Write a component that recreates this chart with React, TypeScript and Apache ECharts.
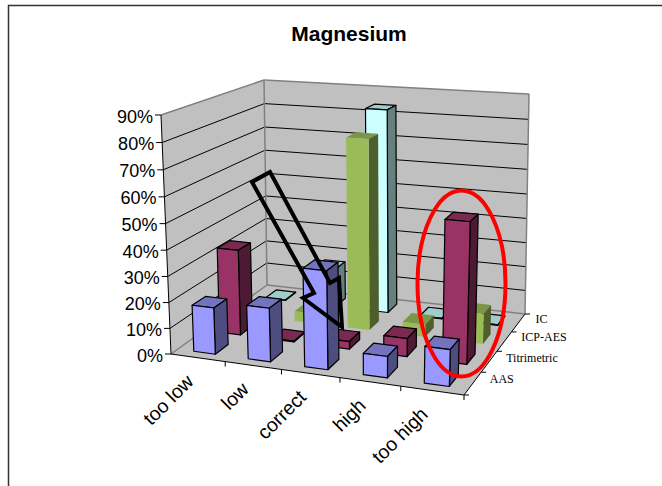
import React, { useEffect, useRef } from "react";
import * as echarts from "echarts";

const categories = ["too low", "low", "correct", "high", "too high"];
const rowNames = ["AAS", "Titrimetric", "ICP-AES", "IC"];
const valueTicks = [0, 10, 20, 30, 40, 50, 60, 70, 80, 90];
const aas = [18, 20.5, 37, 8, 13.5];
const titrimetric = [34, 0.3, 3, 7, 53.5];
const icpAes = [2, 4, 76, 5, 12];
const ic = [0.2, 16, 83.5, 0.2, 0.2];

type Pt = [number, number];
const FLOOR: Pt[] = [[171, 354], [464, 395], [525, 314], [267, 285]];
const TOP: Pt[] = [[161, 115], [472, 137], [529, 94], [264, 80]];
const GRID = { left: 100, top: 100, width: 300, height: 200 };
const PERSPECTIVE = -0.04;

function homography(q: Pt[]) {
  const [[x0, y0], [x1, y1], [x2, y2], [x3, y3]] = q;
  const dx1 = x1 - x2, dx2 = x3 - x2, sx = x0 - x1 + x2 - x3;
  const dy1 = y1 - y2, dy2 = y3 - y2, sy = y0 - y1 + y2 - y3;
  const den = dx1 * dy2 - dx2 * dy1;
  const g = (sx * dy2 - dx2 * sy) / den;
  const h = (dx1 * sy - sx * dy1) / den;
  const a = x1 - x0 + g * x1, b = x3 - x0 + h * x3;
  const d = y1 - y0 + g * y1, e = y3 - y0 + h * y3;
  return (u: number, v: number): Pt => {
    const w = g * u + h * v + 1;
    return [(a * u + b * v + x0) / w, (d * u + e * v + y0) / w];
  };
}
const floorH = homography(FLOOR);
const topH = homography(TOP);

function project(u: number, v: number, w: number): Pt {
  const f = floorH(u, v);
  const t = topH(u, v);
  const k = (w * (1 + PERSPECTIVE)) / (1 + PERSPECTIVE * w);
  return [f[0] + (t[0] - f[0]) * k, f[1] + (t[1] - f[1]) * k];
}

// library scales -> unit cube
const uOf = (api: any, cat: number) => (api.coord([cat, 0])[0] - GRID.left) / GRID.width;
const bandOf = (api: any) => api.size([1, 0])[0] / GRID.width;
const wOf = (api: any, val: number) => (GRID.top + GRID.height - api.coord([0, val])[1]) / GRID.height;

const poly = (points: Pt[], fill: string, stroke?: string, lineWidth = 1) => ({
  type: "polygon",
  shape: { points },
  style: { fill, stroke: stroke ?? "none", lineWidth, lineJoin: "round" },
});
const seg = (p: Pt, q: Pt, stroke: string, lineWidth = 1) => ({
  type: "line",
  shape: { x1: p[0], y1: p[1], x2: q[0], y2: q[1] },
  style: { stroke, lineWidth },
});
const label = (x: number, y: number, text: string, font: string, align: string, rotation = 0) => ({
  type: "text",
  x,
  y,
  rotation,
  style: { text, x: 0, y: 0, font, fill: "#000", align, verticalAlign: "middle" },
});

const SANS = '18px "Liberation Sans", Arial, sans-serif';
const SANS_CAT = '19.5px "Liberation Sans", Arial, sans-serif';
const SERIF = '12px "Liberation Serif", "Times New Roman", serif';

function renderFrame(_: any, api: any) {
  const wall = "#C0C0C0";
  const edge = "#808080";
  const children: any[] = [
    poly([project(0, 0, 0), project(1, 0, 0), project(1, 1, 0), project(0, 1, 0)], wall),
    poly([project(0, 0, 0), project(0, 1, 0), project(0, 1, 1), project(0, 0, 1)], wall),
    poly([project(0, 1, 0), project(1, 1, 0), project(1, 1, 1), project(0, 1, 1)], wall),
  ];
  valueTicks.forEach((t, i) => {
    const w = wOf(api, t);
    const a = project(0, 0, w), b = project(0, 1, w), c = project(1, 1, w);
    if (i > 0 && i < valueTicks.length - 1) {
      children.push(seg(a, b, "#000"), seg(b, c, "#000"));
    }
    children.push(seg(a, [a[0] - 6, a[1]], "#000"));
    children.push(label(a[0] - 8, a[1] + 1.5, `${t}%`, SANS, "right"));
  });
  const top = 1;
  children.push(
    seg(project(0, 0, 0), project(0, 1, 0), edge, 1.5),
    seg(project(0, 1, 0), project(1, 1, 0), edge, 1.5),
    seg(project(0, 1, 0), project(0, 1, top), edge, 1.5),
    seg(project(1, 1, 0), project(1, 1, top), edge, 1.5),
    seg(project(0, 0, top), project(0, 1, top), edge, 1.5),
    seg(project(0, 1, top), project(1, 1, top), edge, 1.5),
    seg(project(0, 0, 0), project(0, 0, top), "#000", 1),
    seg(project(0, 0, 0), project(1, 0, 0), "#000", 1),
    seg(project(1, 0, 0), project(1, 1, 0), "#000", 1),
  );
  const band = bandOf(api);
  categories.forEach((name, i) => {
    const u = uOf(api, i);
    const m = project(u, 0, 0);
    children.push(label(m[0] - 8, m[1] + 20, name, SANS_CAT, "right", Math.PI / 4));
    const t = project(u + band / 2, 0, 0);
    children.push(seg(t, [t[0], t[1] + 5], "#000"));
  });
  rowNames.forEach((name, i) => {
    const t = project(1, (i + 1) / rowNames.length, 0);
    const base = project(1, i / rowNames.length, 0);
    children.push(seg(base, [base[0] + 5, base[1]], "#000"));
    if (i === rowNames.length - 1) children.push(seg(t, [t[0] + 5, t[1]], "#000"));
    const m = project(1, (i + 0.5) / rowNames.length, 0);
    children.push(label(m[0] + 17, m[1] - 4, name, SERIF, "left"));
  });
  return { type: "group", children };
}

type Shades = { front: string; top: string; side: string; stroke?: string };

function barSeries(name: string, values: number[], row: number, c: Shades, z: number) {
  return {
    type: "custom",
    name,
    coordinateSystem: "cartesian2d",
    clip: false,
    z,
    encode: { x: 0, y: 1 },
    data: values.map((v, i) => [i, v]),
    renderItem: (_: any, api: any) => {
      const u = uOf(api, api.value(0));
      const half = bandOf(api) * 0.2;
      const w = wOf(api, api.value(1));
      const v0 = (row + 0.25) / rowNames.length;
      const v1 = (row + 0.75) / rowNames.length;
      const u0 = u - half, u1 = u + half;
      const lw = 1.2;
      return {
        type: "group",
        children: [
          poly([project(u0, v0, w), project(u1, v0, w), project(u1, v1, w), project(u0, v1, w)], c.top, c.stroke, lw),
          poly([project(u1, v0, 0), project(u1, v1, 0), project(u1, v1, w), project(u1, v0, w)], c.side, c.stroke, lw),
          poly([project(u0, v0, 0), project(u1, v0, 0), project(u1, v0, w), project(u0, v0, w)], c.front, c.stroke, lw),
        ],
      };
    },
  };
}

export default function App() {
  const ref = useRef<HTMLDivElement>(null);
  useEffect(() => {
    document.body.style.margin = "0";
    const chart = echarts.init(ref.current!, undefined, { renderer: "svg" });
    chart.setOption({
      animation: false,
      backgroundColor: "#fff",
      title: {
        text: "Magnesium",
        left: 344,
        top: 18,
        textAlign: "center",
        textStyle: { fontFamily: '"Liberation Sans", Arial, sans-serif', fontSize: 21, fontWeight: "bold", color: "#000" },
      },
      grid: { ...GRID, show: false },
      xAxis: { type: "category", data: categories, show: false },
      yAxis: { type: "value", min: 0, max: 90, interval: 10, show: false },
      series: [
        { type: "custom", coordinateSystem: "cartesian2d", clip: false, z: 1, silent: true, data: [[0, 0]], encode: { x: 0, y: 1 }, renderItem: renderFrame },
        barSeries("IC", ic, 3, { front: "#CCFFFF", top: "#A0CCCC", side: "#668080", stroke: "#000" }, 2),
        barSeries("ICP-AES", icpAes, 2, { front: "#9BBB59", top: "#7C9647", side: "#4E5E2D" }, 3),
        barSeries("Titrimetric", titrimetric, 1, { front: "#993366", top: "#7A2952", side: "#4D1A33", stroke: "#000" }, 4),
        barSeries("AAS", aas, 0, { front: "#9999FF", top: "#7373BF", side: "#4D4D80", stroke: "#000" }, 5),
      ],
      graphic: [
        { type: "polyline", z: 100, shape: { points: [[8.5, 486], [8.5, 5.5], [662, 5.5]] }, style: { stroke: "#333", lineWidth: 1.5, fill: "none" } },
        {
          type: "polygon",
          z: 100,
          shape: { points: [[252, 182], [270, 172], [330, 283], [339, 278], [342, 327], [303, 298], [314, 293]] },
          style: { stroke: "#000", lineWidth: 4, fill: "none", lineJoin: "miter" },
        },
        { type: "ellipse", z: 100, shape: { cx: 461.5, cy: 283.5, rx: 44, ry: 93 }, style: { stroke: "#FF0000", lineWidth: 4, fill: "none" } },
      ],
    });
    return () => chart.dispose();
  }, []);
  return <div ref={ref} style={{ width: 662, height: 486 }} />;
}
